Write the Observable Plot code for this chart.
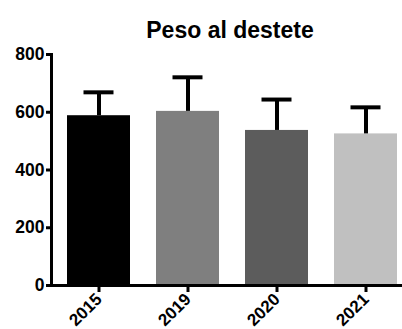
<!DOCTYPE html>
<html>
<head>
<meta charset="utf-8">
<script src="https://cdn.jsdelivr.net/npm/d3@7"></script>
<script src="https://cdn.jsdelivr.net/npm/@observablehq/plot@0.6"></script>
<style>
  html, body { margin: 0; padding: 0; background: #fff; }
</style>
</head>
<body>
<script>
const years = ["2015", "2019", "2020", "2021"];
const means = [588, 603, 537, 525];
const errors = [81, 118, 107, 92];
const yTicks = [0, 200, 400, 600, 800];
const titleText = "Peso al destete";
const barColors = ["#000000", "#7f7f7f", "#5c5c5c", "#c0c0c0"];

const data = years.map((year, i) => ({year, mean: means[i], upper: means[i] + errors[i]}));

const chart = Plot.plot({
  width: 402,
  height: 329,
  marginLeft: 51,
  marginRight: 0,
  marginTop: 54,
  marginBottom: 44,
  style: {fontFamily: "'Liberation Sans', Arial, sans-serif", fontWeight: "bold", background: "#fff", color: "#000"},
  x: {domain: years, range: [66, 398], paddingInner: 0.296, paddingOuter: 0, label: null},
  y: {domain: [0, 800], label: null},
  color: {domain: years, range: barColors},
  marks: [
    Plot.barY(data, {x: "year", y: "mean", fill: "year"}),
    Plot.ruleX(data, {x: "year", y1: "mean", y2: "upper", stroke: "#000", strokeWidth: 4}),
    Plot.tickY(data, {x: "year", y: "upper", stroke: "#000", strokeWidth: 4, insetLeft: 16.5, insetRight: 16.5}),
    Plot.ruleY([0], {stroke: "#000", strokeWidth: 3}),
    Plot.frame({anchor: "left", stroke: "#000", strokeWidth: 3}),
    Plot.axisY({ticks: yTicks, tickSize: 5, tickPadding: 2, fontSize: 17.5, strokeWidth: 3, label: null}),
    Plot.axisX({tickRotate: -45, tickSize: 7, tickPadding: 4, fontSize: 17, strokeWidth: 3, label: null}),
    Plot.text([titleText], {text: d => d, frameAnchor: "top", dy: -33, dx: 3, fontSize: 23, fontWeight: "bold"})
  ]
});
document.body.append(chart);
</script>
</body>
</html>
